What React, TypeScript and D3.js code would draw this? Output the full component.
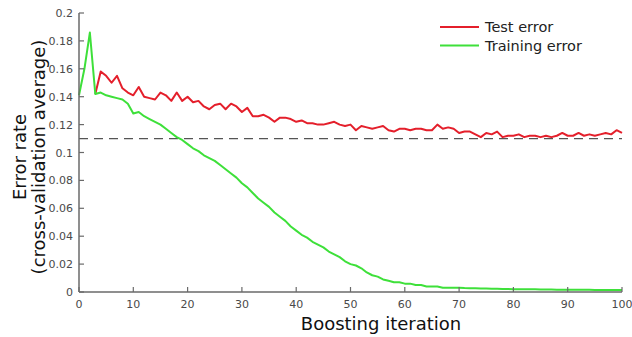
import React from 'react';
import * as d3 from 'd3';

// boosting iterations 0..100
const trainError = [
  0.141, 0.160, 0.186, 0.142, 0.143, 0.141, 0.140, 0.139, 0.138, 0.135,
  0.128, 0.129, 0.126, 0.124, 0.122, 0.120, 0.117, 0.114, 0.111, 0.109,
  0.106, 0.103, 0.101, 0.098, 0.096, 0.094, 0.091, 0.088, 0.085, 0.082,
  0.078, 0.075, 0.071, 0.067, 0.064, 0.061, 0.057, 0.054, 0.051, 0.047,
  0.044, 0.041, 0.039, 0.036, 0.034, 0.032, 0.029, 0.027, 0.025, 0.022,
  0.020, 0.019, 0.017, 0.014, 0.012, 0.011, 0.009, 0.008, 0.007, 0.007,
  0.006, 0.006, 0.005, 0.005, 0.004, 0.004, 0.004, 0.003, 0.003, 0.003,
  0.003, 0.0028, 0.0027, 0.0026, 0.0025, 0.0025, 0.0024, 0.0023, 0.0022, 0.0021,
  0.002, 0.002, 0.002, 0.0019, 0.0019, 0.0018, 0.0018, 0.0018, 0.0017, 0.0017,
  0.0017, 0.0016, 0.0016, 0.0016, 0.0016, 0.0015, 0.0015, 0.0015, 0.0015, 0.0015,
  0.0015,
];

// test error starts at iteration 3
const testStart = 3;
const testError = [
  0.142, 0.158, 0.155, 0.150, 0.155, 0.146, 0.143,
  0.141, 0.147, 0.140, 0.139, 0.138, 0.143, 0.141, 0.137, 0.143, 0.137,
  0.140, 0.136, 0.137, 0.133, 0.131, 0.134, 0.135, 0.131, 0.135, 0.133,
  0.129, 0.132, 0.126, 0.126, 0.127, 0.125, 0.122, 0.125, 0.125, 0.124,
  0.122, 0.123, 0.121, 0.121, 0.120, 0.120, 0.121, 0.122, 0.120, 0.119,
  0.120, 0.116, 0.119, 0.118, 0.117, 0.118, 0.119, 0.116, 0.115, 0.117,
  0.117, 0.116, 0.117, 0.117, 0.116, 0.116, 0.120, 0.117, 0.118, 0.117,
  0.114, 0.115, 0.115, 0.113, 0.111, 0.114, 0.113, 0.115, 0.111, 0.112,
  0.112, 0.113, 0.111, 0.112, 0.112, 0.111, 0.112, 0.111, 0.112, 0.114,
  0.112, 0.112, 0.114, 0.112, 0.113, 0.112, 0.113, 0.114, 0.113, 0.116,
  0.114,
];

const baseline = 0.11;
const xTicks = [0, 10, 20, 30, 40, 50, 60, 70, 80, 90, 100];
const yTicks = [0, 0.02, 0.04, 0.06, 0.08, 0.1, 0.12, 0.14, 0.16, 0.18, 0.2];
const legendItems = [
  { label: 'Test error', color: '#e41f2b' },
  { label: 'Training error', color: '#3ee03a' },
];

const W = 632;
const H = 337;
const font = 'DejaVu Sans, sans-serif';

export default function App() {
  const x = d3.scaleLinear().domain([0, 100]).range([79, 622]);
  const y = d3.scaleLinear().domain([0, 0.2]).range([292, 13]);

  const line = d3.line<[number, number]>()
    .x(d => x(d[0]))
    .y(d => y(d[1]));

  const trainPts: [number, number][] = trainError.map((v, i) => [i, v]);
  const testPts: [number, number][] = testError.map((v, i) => [i + testStart, v]);

  const axisColor = '#6a6a6a';

  return (
    <svg width={W} height={H} style={{ position: 'absolute', left: 0, top: 0, background: '#fff' }}>
      {/* dashed reference */}
      <line x1={x(0)} x2={x(100)} y1={y(baseline)} y2={y(baseline)}
        stroke="#555" strokeWidth={1.2} strokeDasharray="9,6" />

      <path d={line(testPts) || ''} fill="none" stroke={legendItems[0].color} strokeWidth={2} strokeLinejoin="round" />
      <path d={line(trainPts) || ''} fill="none" stroke={legendItems[1].color} strokeWidth={2} strokeLinejoin="round" />

      {/* axes */}
      <line x1={x(0)} x2={x(100)} y1={y(0)} y2={y(0)} stroke={axisColor} strokeWidth={1.5} />
      <line x1={x(0)} x2={x(0)} y1={y(0)} y2={y(0.2)} stroke={axisColor} strokeWidth={1.5} />

      {xTicks.map(t => (
        <g key={'x' + t}>
          <line x1={x(t)} x2={x(t)} y1={y(0)} y2={y(0) - 5} stroke={axisColor} strokeWidth={1.2} />
          <text x={x(t)} y={308} textAnchor="middle" fontFamily={font} fontSize={11} fill="#4a4a4a">{t}</text>
        </g>
      ))}
      {yTicks.map(t => (
        <g key={'y' + t}>
          <line x1={x(0)} x2={x(0) + 5} y1={y(t)} y2={y(t)} stroke={axisColor} strokeWidth={1.2} />
          <text x={73} y={y(t) + 4} textAnchor="end" fontFamily={font} fontSize={11} fill="#4a4a4a">{String(t)}</text>
        </g>
      ))}

      <text x={381} y={330} textAnchor="middle" fontFamily={font} fontSize={18} fill="#111">Boosting iteration</text>
      <g transform="translate(26,157) rotate(-90)">
        <text x={0} y={0} textAnchor="middle" fontFamily={font} fontSize={18} fill="#111">Error rate</text>
        <text x={0} y={19} textAnchor="middle" fontFamily={font} fontSize={18} fill="#111">(cross-validation average)</text>
      </g>

      {legendItems.map((d, i) => (
        <g key={d.label} transform={`translate(440,${27 + i * 18.5})`}>
          <line x1={0} x2={39} y1={0} y2={0} stroke={d.color} strokeWidth={2} />
          <text x={45} y={5} fontFamily={font} fontSize={14.5} fill="#222">{d.label}</text>
        </g>
      ))}
    </svg>
  );
}
